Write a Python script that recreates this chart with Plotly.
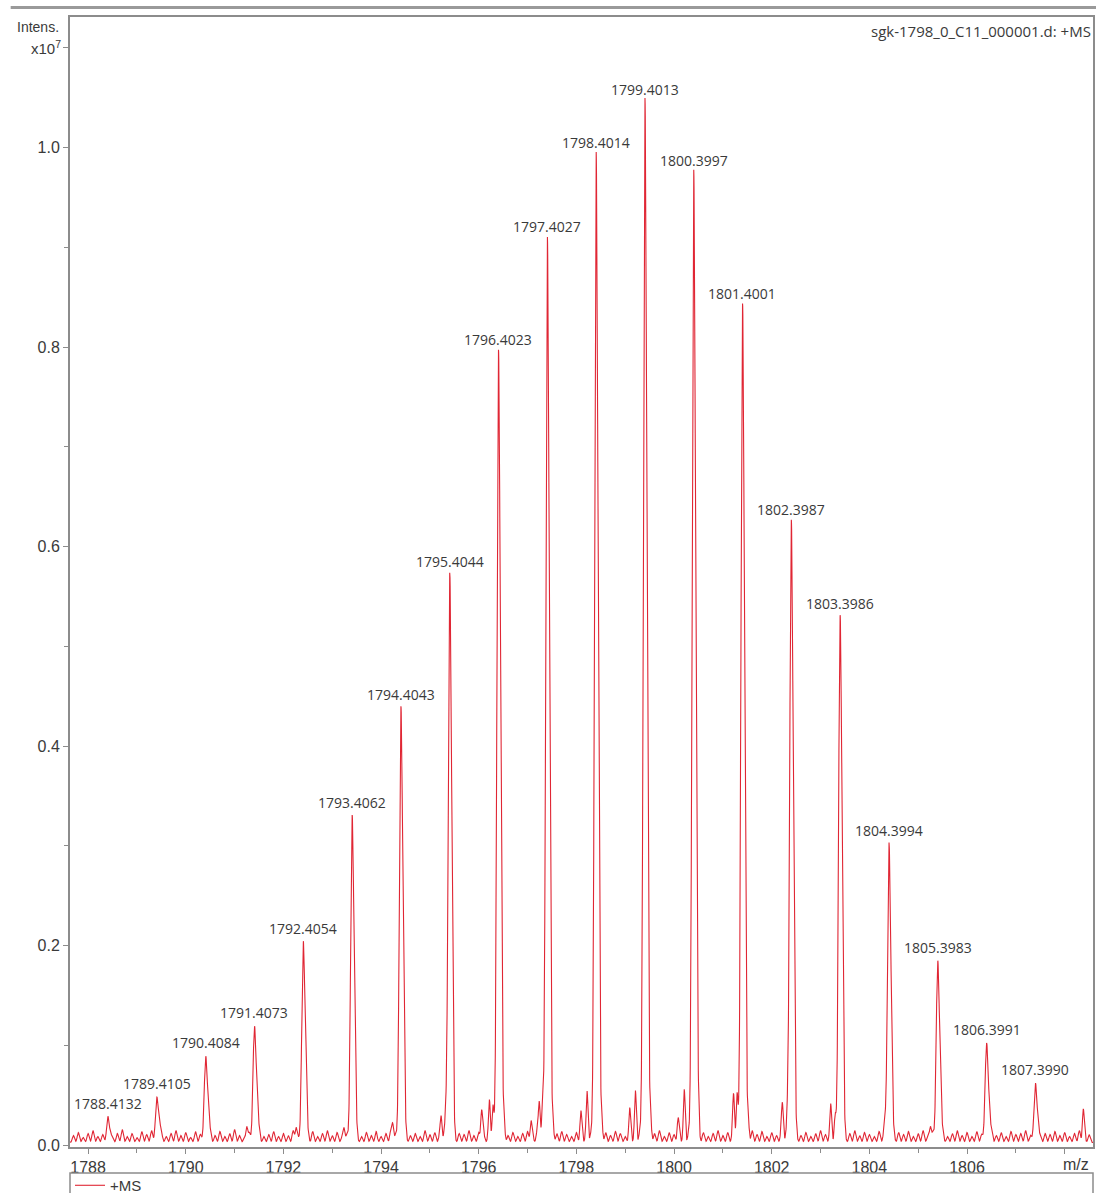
import numpy as np
import plotly.graph_objects as go

# Labelled isotope peaks: centroid m/z and intensity (x10^7)
peak_mz = [1788.4132, 1789.4105, 1790.4084, 1791.4073, 1792.4054, 1793.4062,
           1794.4043, 1795.4044, 1796.4023, 1797.4027, 1798.4014, 1799.4013,
           1800.3997, 1801.4001, 1802.3987, 1803.3986, 1804.3994, 1805.3983,
           1806.3991, 1807.3990]
peak_int = [0.028, 0.048, 0.089, 0.119, 0.204, 0.330,
            0.438, 0.572, 0.794, 0.907, 0.992, 1.045,
            0.974, 0.840, 0.624, 0.529, 0.302, 0.184,
            0.102, 0.062]

# Unlabelled minor signals (satellites and the clipped peak at the right edge)
minor_mz = [1791.25, 1792.26, 1793.24, 1794.24, 1795.23, 1795.33, 1796.06,
            1796.22, 1796.29, 1796.52, 1797.07, 1797.24, 1797.31, 1797.52,
            1798.09, 1798.22, 1798.52, 1799.09, 1799.21, 1799.52, 1800.08,
            1800.21, 1800.50, 1801.22, 1801.29, 1801.52, 1802.22, 1802.33,
            1803.21, 1803.30, 1804.32, 1805.25, 1808.38]
minor_int = [0.015, 0.014, 0.014, 0.017, 0.024, 0.020, 0.031,
             0.039, 0.027, 0.017, 0.019, 0.039, 0.032, 0.018,
             0.020, 0.047, 0.020, 0.024, 0.045, 0.022, 0.017,
             0.047, 0.020, 0.044, 0.039, 0.020, 0.032, 0.025,
             0.029, 0.020, 0.014, 0.015, 0.029]

# Baseline chemical noise, every 0.1 m/z from 1787.7 (units of 1e-3 x10^7)
noise_start = 1787.7
noise_step = 0.1
noise_floor = 0.0025
noise_level = [7, 10, 5, 9, 12, 6, 8, 11, 4, 9,
               13, 6, 9, 5, 11, 8, 12, 7, 10, 6,
               9, 12, 7, 10, 5, 11, 8, 6, 10, 7,
               11, 6, 9, 13, 7, 5, 10, 8, 12, 6,
               8, 11, 6, 9, 7, 12, 5, 10, 8, 11,
               6, 9, 12, 7, 10, 5, 8, 13, 9, 6,
               10, 7, 11, 6, 9, 12, 8, 5, 11, 7,
               9, 6, 12, 8, 10, 7, 11, 13, 6, 9,
               8, 12, 7, 10, 9, 6, 11, 8, 12, 7,
               10, 6, 9, 11, 7, 12, 8, 10, 6, 9,
               11, 8, 6, 10, 13, 7, 9, 12, 8, 10,
               7, 11, 9, 6, 12, 8, 10, 7, 11, 9,
               12, 6, 10, 8, 11, 7, 9, 13, 8, 10,
               6, 9, 12, 7, 10, 8, 11, 6, 9, 12,
               8, 11, 6, 10, 7, 12, 9, 8, 11, 7,
               10, 6, 9, 12, 8, 11, 7, 10, 6, 9,
               12, 7, 10, 8, 6, 11, 9, 12, 7, 10,
               8, 11, 6, 9, 12, 7, 10, 8, 11, 6,
               9, 12, 7, 10, 6, 11, 8, 9, 12, 7,
               10, 6, 11, 8, 9, 12, 7, 10, 6, 9,
               8, 11, 7, 10, 6, 9, 12, 7, 8]

x_tick_vals = [1788, 1790, 1792, 1794, 1796, 1798, 1800, 1802, 1804, 1806, 1808]
x_tick_text = ["1788", "1790", "1792", "1794", "1796", "1798", "1800", "1802",
               "1804", "1806", ""]
y_tick_vals = [0.0, 0.2, 0.4, 0.6, 0.8, 1.0, 1.1]
y_tick_text = ["0.0", "0.2", "0.4", "0.6", "0.8", "1.0", ""]

# Line-shape parameters for rendering the profile from the stick lists
MAIN_SIGMA = 0.03
SHOULDER_OFFSET = 0.05
SHOULDER_FRAC = 0.3
SHOULDER_SIGMA = 0.024
MINOR_SIGMA = 0.018
NOISE_SIGMA = 0.022

mz = np.arange(1787.60, 1808.62, 0.003)


def gauss(grid, center, sigma):
    return np.exp(-0.5 * ((grid - center) / sigma) ** 2)


def background(grid):
    out = np.full(grid.shape, noise_floor, dtype=float)
    for m, h in zip(minor_mz, minor_int):
        out += h * gauss(grid, m, MINOR_SIGMA)
    for i, h in enumerate(noise_level):
        out += h * 1e-3 * gauss(grid, noise_start + i * noise_step, NOISE_SIGMA)
    return out


profile = background(mz)
centre_bg = background(np.array(peak_mz))
shoulder_at_centre = SHOULDER_FRAC * np.exp(-0.5 * (SHOULDER_OFFSET / SHOULDER_SIGMA) ** 2)
for m, h, bg in zip(peak_mz, peak_int, centre_bg):
    # amplitude chosen so the apex of the summed profile equals the listed intensity
    amp = (h - bg) / (1.0 + shoulder_at_centre)
    profile += amp * gauss(mz, m, MAIN_SIGMA)
    profile += amp * SHOULDER_FRAC * gauss(mz, m + SHOULDER_OFFSET, SHOULDER_SIGMA)

RED = "rgb(224,38,52)"
GREY = "#8c8c8c"
TXT = "#3a3a3a"

fig = go.Figure()
fig.add_trace(go.Scatter(x=mz, y=profile, mode="lines", name="+MS",
                         line=dict(color=RED, width=1.1), showlegend=True))

for m, h in zip(peak_mz, peak_int):
    fig.add_annotation(x=m, y=h, text=f"{m:.4f}", showarrow=False,
                       yanchor="bottom", yshift=2,
                       font=dict(family="Open Sans", size=14, color=TXT))

fig.add_annotation(xref="paper", yref="paper", x=1, y=0.998, xanchor="right",
                   yanchor="top", text="sgk-1798_0_C11_000001.d: +MS",
                   showarrow=False, font=dict(family="Open Sans", size=15, color=TXT))
fig.add_annotation(xref="paper", yref="paper", x=-0.009, y=1.0, xanchor="right",
                   yanchor="top", text="Intens.", showarrow=False,
                   font=dict(family="Liberation Sans", size=14, color=TXT))
fig.add_annotation(xref="paper", y=1.1, x=-0.007, xanchor="right", yanchor="middle",
                   text="x10<sup>7</sup>", showarrow=False,
                   font=dict(family="Liberation Sans", size=15, color=TXT))
fig.add_annotation(xref="paper", yref="paper", x=0.998, y=-0.006, xanchor="right",
                   yanchor="top", text="m/z", showarrow=False,
                   font=dict(family="Liberation Sans", size=16, color=TXT))

# Outer rule above the plot and legend frame below it
fig.add_shape(type="line", xref="paper", yref="paper", x0=-0.058, x1=1.01,
              y0=1.0085, y1=1.0085, line=dict(color="#9a9a9a", width=3))
fig.add_shape(type="rect", xref="paper", yref="paper", x0=0, x1=1,
              y0=-0.1, y1=-0.023, line=dict(color=GREY, width=1.5))

fig.update_layout(
    width=1096, height=1193,
    margin=dict(l=70, r=3, t=17, b=46, autoexpand=False),
    paper_bgcolor="white", plot_bgcolor="white",
    font=dict(family="Liberation Sans", color=TXT),
    legend=dict(x=0.0, y=-0.0195, xanchor="left", yanchor="top",
                bgcolor="rgba(0,0,0,0)", borderwidth=0, itemwidth=30,
                font=dict(family="Liberation Sans", size=15, color=TXT)),
    xaxis=dict(range=[1787.63, 1808.58], tickmode="array", tickvals=x_tick_vals,
               ticktext=x_tick_text, ticks="outside", ticklen=5, tickcolor=GREY,
               showline=True, linecolor=GREY, linewidth=2, mirror=True,
               showgrid=False, zeroline=False,
               tickfont=dict(family="Liberation Sans", size=16, color=TXT),
               minor=dict(tickmode="linear", tick0=1787, dtick=2, ticks="outside",
                          ticklen=4, tickcolor=GREY)),
    yaxis=dict(range=[-0.002, 1.131], tickmode="array", tickvals=y_tick_vals,
               ticktext=y_tick_text, ticks="outside", ticklen=5, tickcolor=GREY,
               showline=True, linecolor=GREY, linewidth=2, mirror=True,
               showgrid=False, zeroline=False,
               tickfont=dict(family="Liberation Sans", size=16, color=TXT),
               minor=dict(tickmode="linear", tick0=0.1, dtick=0.2, ticks="outside",
                          ticklen=4, tickcolor=GREY)),
)

fig.write_html("out.html")
